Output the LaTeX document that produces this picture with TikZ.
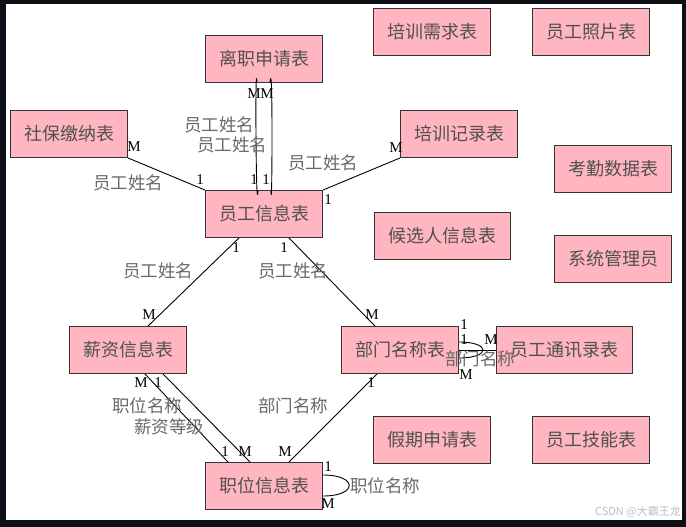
\documentclass[tikz,border=0pt]{standalone}
\usepackage{fontspec}
\setmainfont{Liberation Serif}
\newfontfamily\cjk{Noto Sans CJK SC}
\definecolor{pinkf}{RGB}{255,182,193}
\definecolor{edgegray}{RGB}{51,51,51}
\definecolor{tg}{RGB}{80,80,80}
\definecolor{lg}{RGB}{105,105,105}
\definecolor{frame}{RGB}{13,17,23}
\begin{document}
\begin{tikzpicture}[x=1pt,y=-1pt,
  tbl/.style={draw=edgegray, fill=pinkf, line width=0.9pt, minimum width=117pt, minimum height=47pt, inner sep=0pt, font=\cjk\fontsize{18}{20}\selectfont, text=tg},
  lbl/.style={font=\cjk\fontsize{17.5}{19}\selectfont, text=lg, inner sep=0pt},
  card/.style={font=\fontsize{15}{16}\selectfont, inner sep=0pt, text=black},
  rel/.style={draw=black, line width=0.9pt}]
\useasboundingbox (0,0) rectangle (686,527);
\fill[frame] (0,0) rectangle (686,527);
\fill[white] (6,4) rectangle (682,520);

% tables
\node[tbl] (ly) at (264,59) {离职申请表};
\node[tbl] (pxq) at (432,32) {培训需求表};
\node[tbl] (zp) at (591,32) {员工照片表};
\node[tbl] (sb) at (69,134) {社保缴纳表};
\node[tbl] (pxj) at (459,134) {培训记录表};
\node[tbl] (kq) at (613,169) {考勤数据表};
\node[tbl] (yg) at (264,214) {员工信息表};
\node[tbl, minimum width=136pt] (hx) at (442,236) {候选人信息表};
\node[tbl] (gl) at (613,259) {系统管理员};
\node[tbl] (xz) at (128,350) {薪资信息表};
\node[tbl] (bm) at (400,350) {部门名称表};
\node[tbl, minimum width=136pt] (tx) at (564,350) {员工通讯录表};
\node[tbl] (jq) at (432,440) {假期申请表};
\node[tbl] (jn) at (591,440) {员工技能表};
\node[tbl] (zw) at (264,486) {职位信息表};

% relations
\draw[rel] (sb.south east) -- (yg.north west);
\draw[rel] (pxj.south west) -- (yg.north east);
\draw[rel] ([xshift=-7pt]ly.south) .. controls ([xshift=-9pt,yshift=35pt]ly.south) and ([xshift=-8pt,yshift=-35pt]yg.north) .. ([xshift=-6pt]yg.north);
\draw[rel] ([xshift=6pt]ly.south) .. controls ([xshift=9pt,yshift=35pt]ly.south) and ([xshift=8pt,yshift=-35pt]yg.north) .. ([xshift=7pt]yg.north);
\draw[rel] ([xshift=-25pt]yg.south) -- ([xshift=20pt]xz.north);
\draw[rel] ([xshift=25pt]yg.south) -- ([xshift=-25pt]bm.north);
\draw[rel] ([xshift=17pt]xz.south) -- ([xshift=-36pt]zw.north);
\draw[rel] ([xshift=35pt]xz.south) -- ([xshift=-14pt]zw.north);
\draw[rel] ([xshift=-23pt]bm.south) -- ([xshift=25pt]zw.north);
\draw[rel] ([yshift=-10pt]zw.east) .. controls ([xshift=35pt,yshift=-10pt]zw.east) and ([xshift=35pt,yshift=11pt]zw.east) .. ([yshift=11pt]zw.east);
\draw[rel] ([yshift=-8pt]bm.east) .. controls ([xshift=32pt,yshift=-8pt]bm.east) and ([xshift=32pt,yshift=8pt]bm.east) .. ([yshift=8pt]bm.east);
\draw[rel] (bm.east) -- (tx.west);

% relation labels
\node[lbl] (l1) at (128,183) {员工姓名};
\node[lbl] (l2) at (219,125) {员工姓名};
\node[lbl] (l3) at (232,145) {员工姓名};
\node[lbl] (l4) at (323,163) {员工姓名};
\node[lbl] (l5) at (158,271) {员工姓名};
\node[lbl] (l6) at (293,271) {员工姓名};
\node[lbl] (l7) at (147,406) {职位名称};
\node[lbl] (l8) at (169,427) {薪资等级};
\node[lbl] (l9) at (293,406) {部门名称};
\node[lbl] (l10) at (385,486) {职位名称};
\node[lbl] (l11) at (480,359) {部门名称};

% cardinalities
\node[card] (c1) at (134,147) {M};
\node[card] (c2) at (200,180) {1};
\node[card] (c3) at (254,94) {M};
\node[card] (c4) at (267,94) {M};
\node[card] (c5) at (254,180) {1};
\node[card] (c6) at (266,180) {1};
\node[card] (c7) at (396,148) {M};
\node[card] (c8) at (328,200) {1};
\node[card] (c9) at (236,248) {1};
\node[card] (c10) at (284,248) {1};
\node[card] (c11) at (149,315) {M};
\node[card] (c12) at (372,315) {M};
\node[card] (c13) at (141,383) {M};
\node[card] (c14) at (158,383) {1};
\node[card] (c15) at (371,383) {1};
\node[card] (c16) at (225,452) {1};
\node[card] (c17) at (245,452) {M};
\node[card] (c18) at (285,452) {M};
\node[card] (c19) at (328,467) {1};
\node[card] (c20) at (328,504) {M};
\node[card] (c21) at (464,325) {1};
\node[card] (c22) at (464,340) {1};
\node[card] (c23) at (491,340) {M};
\node[card] (c24) at (466,375) {M};

% watermark
\node[font=\cjk\fontsize{11}{12}\selectfont, text={rgb,255:red,190;green,190;blue,190}, anchor=east, inner sep=0pt] (wm) at (681,512) {CSDN @大霸王龙};
\end{tikzpicture}
\end{document}
